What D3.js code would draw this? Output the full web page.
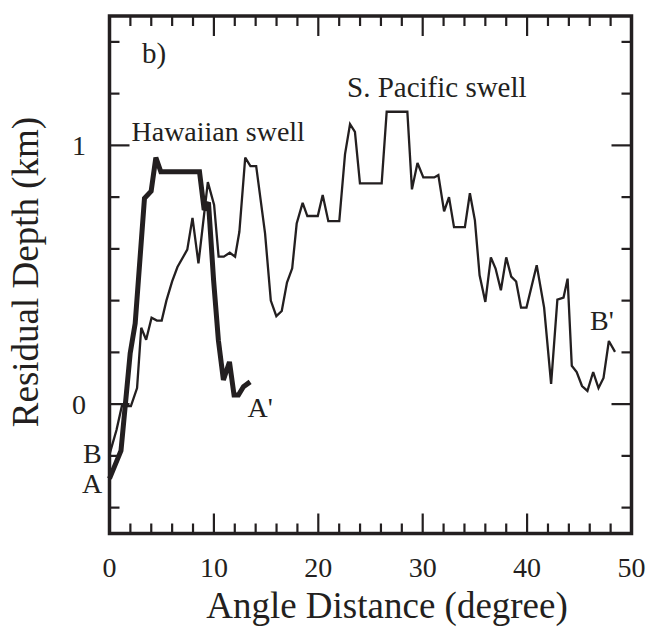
<!DOCTYPE html>
<html>
<head>
<meta charset="utf-8">
<script src="https://cdn.jsdelivr.net/npm/d3@7"></script>
<style>
  html, body { margin: 0; padding: 0; background: #fff; }
  svg { display: block; }
  text { font-family: "Liberation Serif", "Times New Roman", serif; fill: #231f20; }
</style>
</head>
<body>
<svg id="chart" width="649" height="631"></svg>
<script>
// Profile A–A' across the Hawaiian swell: [angle distance (deg), residual depth (km)]
const profileA = [
  [0.0, -0.288], [1.1, -0.18], [1.98, 0.196], [2.46, 0.312], [3.35, 0.795],
  [3.99, 0.823], [4.44, 0.953], [4.92, 0.898], [8.62, 0.898], [9.07, 0.75],
  [9.48, 0.78], [9.97, 0.479], [10.43, 0.247], [10.91, 0.093], [11.49, 0.163],
  [11.93, 0.035], [12.35, 0.035], [12.83, 0.067], [13.47, 0.086]
];

// Profile B–B' across the South Pacific swell
const profileB = [
  [0.0, -0.194], [0.67, -0.1], [1.18, -0.008], [2.05, -0.008], [2.64, 0.062],
  [3.04, 0.295], [3.51, 0.249], [4.03, 0.334], [4.54, 0.323], [5.0, 0.323],
  [5.45, 0.40], [6.0, 0.474], [6.51, 0.53], [7.45, 0.597], [7.95, 0.72],
  [8.52, 0.544], [9.42, 0.858], [10.02, 0.77], [10.45, 0.57], [10.95, 0.57],
  [11.52, 0.585], [12.03, 0.57], [12.44, 0.666], [13.0, 0.953], [13.5, 0.92],
  [14.05, 0.92], [14.9, 0.66], [15.45, 0.40], [15.98, 0.34], [16.5, 0.36],
  [17.0, 0.47], [17.5, 0.525], [17.93, 0.698], [18.5, 0.778], [18.95, 0.727],
  [19.95, 0.727], [20.42, 0.808], [20.96, 0.707], [22.01, 0.707], [22.56, 0.966],
  [23.04, 1.082], [23.51, 1.052], [23.99, 0.853], [26.07, 0.853], [26.55, 1.13],
  [28.53, 1.13], [28.97, 0.83], [29.5, 0.932], [30.06, 0.876], [31.1, 0.876],
  [31.5, 0.885], [32.05, 0.745], [32.52, 0.80], [33.0, 0.684], [34.04, 0.684],
  [34.52, 0.815], [35.0, 0.71], [35.45, 0.498], [36.0, 0.395], [36.53, 0.567],
  [36.98, 0.524], [37.49, 0.44], [38.0, 0.567], [38.48, 0.493], [38.95, 0.474],
  [39.42, 0.373], [39.94, 0.373], [40.92, 0.537], [41.63, 0.373], [42.3, 0.078],
  [42.9, 0.404], [43.49, 0.412], [43.88, 0.485], [44.28, 0.148], [44.75, 0.124],
  [45.26, 0.07], [45.78, 0.051], [46.33, 0.124], [46.84, 0.062], [47.32, 0.101],
  [47.83, 0.244], [48.42, 0.202]
];

const xLabelTicks = [0, 10, 20, 30, 40, 50];
const yLabelTicks = [0, 1];

const svg = d3.select("#chart");
const ink = "#231f20";

const plotL = 109.5, plotR = 631.5, plotT = 16, plotB = 533.5;
const x = d3.scaleLinear().domain([0, 50]).range([plotL, plotR]);
const y = d3.scaleLinear().domain([-0.5, 1.5]).range([plotB, plotT]);

const minorX = d3.range(2, 50, 2);
const minorY = d3.range(-0.4, 1.41, 0.2).map(v => +v.toFixed(1));
const isMajorX = v => v % 10 === 0;
const isMajorY = v => Math.abs(v) < 1e-9 || Math.abs(v - 1) < 1e-9;
const minorLen = 10, majorLen = 20;

// inward ticks on all four sides
const tickG = svg.append("g").attr("stroke", ink).attr("stroke-width", 2.2);
minorX.forEach(v => {
  const len = isMajorX(v) ? majorLen : minorLen;
  tickG.append("line").attr("x1", x(v)).attr("x2", x(v)).attr("y1", plotB).attr("y2", plotB - len);
  tickG.append("line").attr("x1", x(v)).attr("x2", x(v)).attr("y1", plotT).attr("y2", plotT + len);
});
minorY.forEach(v => {
  const len = isMajorY(v) ? majorLen : minorLen;
  tickG.append("line").attr("y1", y(v)).attr("y2", y(v)).attr("x1", plotL).attr("x2", plotL + len);
  tickG.append("line").attr("y1", y(v)).attr("y2", y(v)).attr("x1", plotR).attr("x2", plotR - len);
});

// tick labels
svg.append("g").selectAll("text").data(xLabelTicks).join("text")
  .attr("x", d => x(d)).attr("y", 577)
  .attr("text-anchor", "middle").attr("font-size", 28)
  .text(d => d);
svg.append("g").selectAll("text").data(yLabelTicks).join("text")
  .attr("x", 86).attr("y", d => y(d) + 9.5)
  .attr("text-anchor", "end").attr("font-size", 28)
  .text(d => d);

// profiles
const line = d3.line().x(d => x(d[0])).y(d => y(d[1]));
svg.append("path").datum(profileB).attr("d", line)
  .attr("fill", "none").attr("stroke", ink).attr("stroke-width", 2.3)
  .attr("stroke-linejoin", "miter").attr("stroke-miterlimit", 3);
svg.append("path").datum(profileA).attr("d", line)
  .attr("fill", "none").attr("stroke", ink).attr("stroke-width", 5)
  .attr("stroke-linejoin", "miter").attr("stroke-miterlimit", 3);

// frame
svg.append("rect")
  .attr("x", plotL).attr("y", plotT).attr("width", plotR - plotL).attr("height", plotB - plotT)
  .attr("fill", "none").attr("stroke", ink).attr("stroke-width", 3.5);

// annotations
const notes = [
  { t: "b)", x: 142, y: 63, s: 29 },
  { t: "Hawaiian swell", x: 131.5, y: 140.5, s: 28 },
  { t: "S. Pacific swell", x: 347, y: 97, s: 29 },
  { t: "A'", x: 247.5, y: 417, s: 28 },
  { t: "B", x: 83, y: 463, s: 28 },
  { t: "A", x: 82, y: 493, s: 28 },
  { t: "B'", x: 590, y: 330, s: 28 }
];
svg.append("g").selectAll("text").data(notes).join("text")
  .attr("x", d => d.x).attr("y", d => d.y).attr("font-size", d => d.s)
  .text(d => d.t);

// axis titles
svg.append("text")
  .attr("x", 387).attr("y", 618).attr("text-anchor", "middle").attr("font-size", 37)
  .text("Angle Distance (degree)");
svg.append("text")
  .attr("transform", "translate(38,272) rotate(-90)")
  .attr("text-anchor", "middle").attr("font-size", 37)
  .text("Residual Depth (km)");
</script>
</body>
</html>
